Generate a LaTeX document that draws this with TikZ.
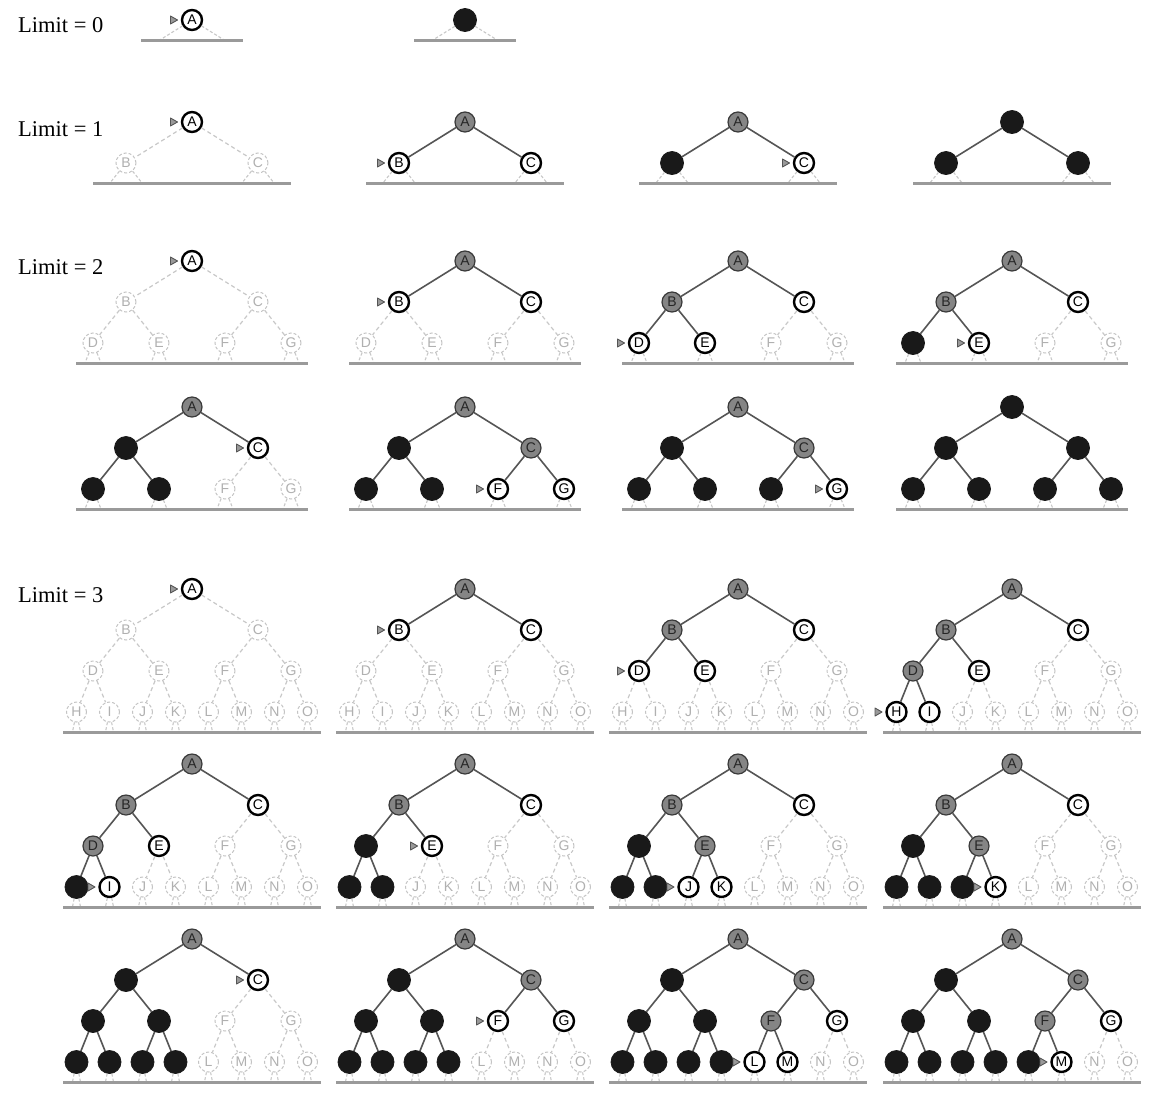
\documentclass[tikz,border=0pt]{standalone}
\usepackage{fontspec}
\setmainfont{Liberation Serif}
\newfontfamily\nodefont{Liberation Sans}
\definecolor{edgecol}{HTML}{555555}
\definecolor{dashcol}{HTML}{C8C8C8}
\definecolor{expfill}{HTML}{858585}
\definecolor{expdraw}{HTML}{3A3A3A}
\definecolor{unxdraw}{HTML}{C4C4C4}
\definecolor{unxtext}{HTML}{B0B0B0}
\definecolor{basecol}{HTML}{9A9A9A}
\definecolor{markfill}{HTML}{999999}
\definecolor{markdraw}{HTML}{555555}
\tikzset{
  base node/.style={circle, minimum size=20pt, inner sep=0pt,
    font=\nodefont\fontsize{14pt}{14pt}\selectfont},
  stc/.style={base node, draw=black, line width=2.4pt, fill=white, text=black},
  stf/.style={base node, draw=black, line width=2.4pt, fill=white, text=black},
  ste/.style={base node, draw=expdraw, line width=1.2pt, fill=expfill, text=black!85},
  stx/.style={base node, minimum size=23pt, draw=black!90, line width=0.8pt, fill=black!90},
  stu/.style={base node, draw=unxdraw, line width=1pt, dash pattern=on 3pt off 2pt, fill=white, text=unxtext},
  edges/.style={draw=edgecol, line width=1.6pt},
  edgeu/.style={draw=dashcol, line width=1.2pt, dash pattern=on 4pt off 3pt},
  stub/.style={draw=dashcol, line width=1.1pt, dash pattern=on 3pt off 2pt},
  baseln/.style={draw=basecol, line width=3pt},
  marker/.style={draw=markdraw, fill=markfill, line width=0.9pt, line join=round},
  limlbl/.style={anchor=west, inner sep=0pt, font=\fontsize{22.5pt}{22.5pt}\selectfont}
}
\newcommand\letterof[1]{\ifcase#1\or A\or B\or C\or D\or E\or F\or G\or H\or I\or J\or K\or L\or M\or N\or O\fi}
\newcommand\drawpanel[5]{%
 \pgfmathsetmacro\basey{#3+41*#4+20}%
 \foreach \s [count=\i] in {#5}{%
  \ifnum\i<2 \def\lev{0}\def\first{1}\else
   \ifnum\i<4 \def\lev{1}\def\first{2}\else
    \ifnum\i<8 \def\lev{2}\def\first{4}\else
     \def\lev{3}\def\first{8}\fi\fi\fi
  \pgfmathsetmacro\nx{#2+(\i-\first-(\first-1)/2)*264/\first}%
  \pgfmathsetmacro\ny{#3+41*\lev}%
  \edef\lab{\letterof{\i}}%
  \edef\tmp{\noexpand\node[st\s] (#1-\lab) at (\nx,\ny) {\if x\s\else\lab\fi};}\tmp
  \if c\s \draw[marker] ([xshift=-21.5pt,yshift=4pt]#1-\lab.center) -- ([xshift=-14.5pt]#1-\lab.center) -- ([xshift=-21.5pt,yshift=-4pt]#1-\lab.center) -- cycle;\fi
  \ifnum\i>1
   \pgfmathtruncatemacro\pidx{floor(\i/2)}%
   \edef\plab{\letterof{\pidx}}%
   \if u\s \draw[edgeu] (#1-\plab) -- (#1-\lab);\else \draw[edges] (#1-\plab) -- (#1-\lab);\fi
  \fi
  \ifnum\lev=#4\relax
   \pgfmathsetmacro\dx{66/(2^\lev)*20/41}%
   \coordinate (#1-\lab-l) at (\nx-\dx,\basey);
   \coordinate (#1-\lab-r) at (\nx+\dx,\basey);
   \draw[stub] (#1-\lab) -- (#1-\lab-l);
   \draw[stub] (#1-\lab) -- (#1-\lab-r);
  \fi
 }%
 \ifcase#4\relax\def\hw{51}\or\def\hw{99}\or\def\hw{116}\or\def\hw{129}\fi
 \coordinate (#1-bl) at (#2-\hw,\basey);
 \coordinate (#1-br) at (#2+\hw,\basey);
 \draw[baseln] (#1-bl) -- (#1-br);
}
\begin{document}
\begin{tikzpicture}[x=1pt,y=-1pt]
\fill[white] (0,0) rectangle (1153,1093);
\useasboundingbox (0,0) rectangle (1153,1093);
% labels
\node[limlbl] (lim0) at (18,25) {Limit = 0};
\node[limlbl] (lim1) at (18,129) {Limit = 1};
\node[limlbl] (lim2) at (18,267) {Limit = 2};
\node[limlbl] (lim3) at (18,595) {Limit = 3};
% Limit 0
\drawpanel{za}{192}{20}{0}{c}
\drawpanel{zb}{465}{20}{0}{x}
% Limit 1
\drawpanel{oa}{192}{122}{1}{c,u,u}
\drawpanel{ob}{465}{122}{1}{e,c,f}
\drawpanel{oc}{738}{122}{1}{e,x,c}
\drawpanel{od}{1012}{122}{1}{x,x,x}
% Limit 2
\drawpanel{ta}{192}{261}{2}{c,u,u,u,u,u,u}
\drawpanel{tb}{465}{261}{2}{e,c,f,u,u,u,u}
\drawpanel{tc}{738}{261}{2}{e,e,f,c,f,u,u}
\drawpanel{td}{1012}{261}{2}{e,e,f,x,c,u,u}
\drawpanel{te}{192}{407}{2}{e,x,c,x,x,u,u}
\drawpanel{tf}{465}{407}{2}{e,x,e,x,x,c,f}
\drawpanel{tg}{738}{407}{2}{e,x,e,x,x,x,c}
\drawpanel{th}{1012}{407}{2}{x,x,x,x,x,x,x}
% Limit 3
\drawpanel{ha}{192}{589}{3}{c,u,u,u,u,u,u,u,u,u,u,u,u,u,u}
\drawpanel{hb}{465}{589}{3}{e,c,f,u,u,u,u,u,u,u,u,u,u,u,u}
\drawpanel{hc}{738}{589}{3}{e,e,f,c,f,u,u,u,u,u,u,u,u,u,u}
\drawpanel{hd}{1012}{589}{3}{e,e,f,e,f,u,u,c,f,u,u,u,u,u,u}
\drawpanel{he}{192}{764}{3}{e,e,f,e,f,u,u,x,c,u,u,u,u,u,u}
\drawpanel{hf}{465}{764}{3}{e,e,f,x,c,u,u,x,x,u,u,u,u,u,u}
\drawpanel{hg}{738}{764}{3}{e,e,f,x,e,u,u,x,x,c,f,u,u,u,u}
\drawpanel{hh}{1012}{764}{3}{e,e,f,x,e,u,u,x,x,x,c,u,u,u,u}
\drawpanel{hi}{192}{939}{3}{e,x,c,x,x,u,u,x,x,x,x,u,u,u,u}
\drawpanel{hj}{465}{939}{3}{e,x,e,x,x,c,f,x,x,x,x,u,u,u,u}
\drawpanel{hk}{738}{939}{3}{e,x,e,x,x,e,f,x,x,x,x,c,f,u,u}
\drawpanel{hl}{1012}{939}{3}{e,x,e,x,x,e,f,x,x,x,x,x,c,u,u}
\end{tikzpicture}
\end{document}
